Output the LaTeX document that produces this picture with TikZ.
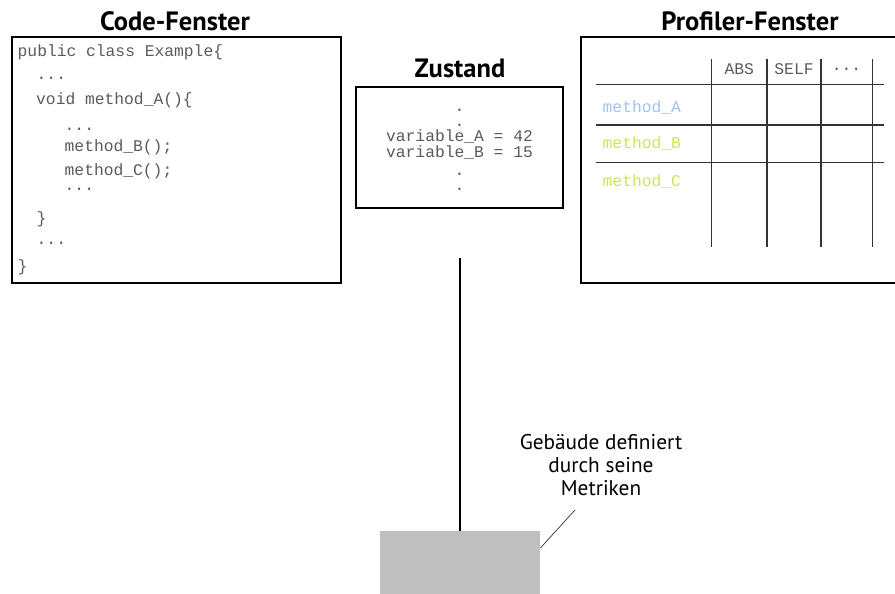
\documentclass[tikz,border=0pt]{standalone}
\usepackage{fontspec}
\setmainfont{PT Sans}
\newfontfamily\codefont{Liberation Mono}
\newfontfamily\titlefont{PT Sans}
\usetikzlibrary{positioning}
\definecolor{codegray}{HTML}{5A5A5A}
\definecolor{gridgray}{HTML}{333333}
\definecolor{methblue}{HTML}{9EC3F2}
\definecolor{methgreen}{HTML}{C9E651}
\definecolor{buildgray}{HTML}{BFBFBF}
\tikzset{
  panel/.style={draw=black, line width=2pt},
  paneltitle/.style={font=\titlefont\bfseries\fontsize{26.5}{28}\selectfont, inner sep=0pt},
  code/.style={font=\codefont\fontsize{16.3}{18}\selectfont, text=codegray, inner sep=0pt, anchor=west},
  tight/.style={text height=10pt, text depth=3pt},
  dot/.style={text height=2pt, text depth=0pt},
  gridline/.style={draw=gridgray, line width=1.1pt},
  note/.style={font=\fontsize{21.3}{23.3}\selectfont, align=center, inner sep=0pt},
}
\begin{document}
\begin{tikzpicture}[x=1pt,y=-1pt]
\useasboundingbox (0,0) rectangle (895,594);

% --- code window ---
\node[paneltitle] (codetitle) at (175,21) {Code-Fenster};
\draw[panel] (11.7,37) rectangle (340.5,282.5);
\node[code] (c1) at (17.5,52) {public class Example\{};
\node[code] (c2) at (36.5,78) {...};
\node[code] (c3) at (36,100.5) {void method\_A()\{};
\node[code] (c4) at (64.5,129) {...};
\node[code] (c5) at (64.5,147) {method\_B();};
\node[code] (c6) at (64.5,171) {method\_C();};
\node[code] (c7) at (64.5,189) {...};
\node[code] (c8) at (36.5,219) {\}};
\node[code] (c9) at (36.5,243) {...};
\node[code] (c10) at (17.5,267) {\}};

% --- state window ---
\node[paneltitle] (statetitle) at (460,68) {Zustand};
\node[panel, minimum width=207pt, minimum height=121pt, inner sep=0pt] (state) at (459,147.8) {};
\node[code, dot, anchor=base] (s1) at (459.5,112) {.};
\node[code, dot, anchor=base] (s2) at (459.5,127) {.};
\node[code, tight, anchor=center] (s3) at (459.5,138.5) {variable\_A = 42};
\node[code, tight, anchor=center] (s4) at (459.5,154) {variable\_B = 15};
\node[code, dot, anchor=base] (s5) at (459.5,175) {.};
\node[code, dot, anchor=base] (s6) at (459.5,190) {.};

% --- profiler window ---
\node[paneltitle] (proftitle) at (750,21) {Profiler-Fenster};
\draw[panel] (897,37) -- (580.5,37) -- (580.5,282.5) -- (897,282.5);
\foreach \y in {84.3,125,162.3} \draw[gridline] (595.5,\y) -- (884,\y);
\foreach \x in {711.7,767,821,872.3} \draw[gridline] (\x,59.3) -- (\x,246.7);
\node[code, anchor=center] (habs) at (739.3,69) {ABS};
\node[code, anchor=center] (hself) at (794,69) {SELF};
\node[code, anchor=center] (hmore) at (846.6,69) {...};
\node[code, text=methblue] (ma) at (602.5,107) {method\_A};
\node[code, text=methgreen] (mb) at (602.5,143.5) {method\_B};
\node[code, text=methgreen] (mc) at (602.5,181) {method\_C};

% --- building with its metrics ---
\node[fill=buildgray, minimum width=160pt, minimum height=64pt, inner sep=0pt, anchor=north west] (building) at (380,530.7) {};
\coordinate (stem) at (459.5,258);
\draw[black, line width=2pt] (stem) -- (building.north -| stem);
\node[note] (metrics) at (601,465) {Gebäude definiert\\durch seine\\Metriken};
\coordinate (leader) at (575,510);
\draw[gridgray, line width=0.7pt] (building.north east |- 0,548) -- (leader);
\end{tikzpicture}
\end{document}
